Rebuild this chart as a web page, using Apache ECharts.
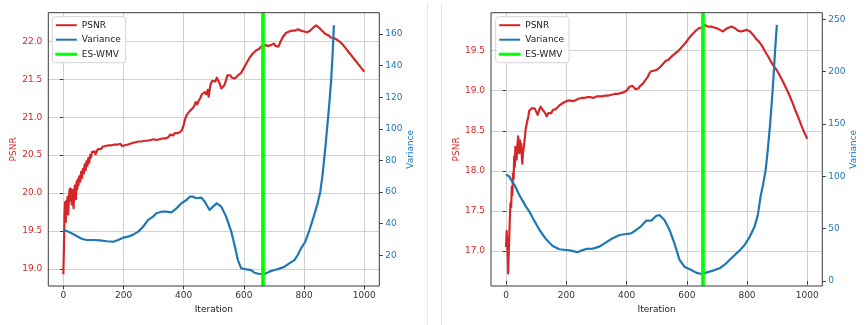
<!DOCTYPE html>
<html>
<head>
<meta charset="utf-8">
<script src="https://cdn.jsdelivr.net/npm/echarts@6/dist/echarts.min.js"></script>
<style>
html,body{margin:0;padding:0;background:#fff;}
#chart{width:865px;height:325px;}
</style>
</head>
<body>
<div id="chart"></div>
<script>
// ---------- data ----------
const xTicks = [0, 200, 400, 600, 800, 1000];
const leftPsnrTicks = [19.0, 19.5, 20.0, 20.5, 21.0, 21.5, 22.0];
const leftVarTicks = [20, 40, 60, 80, 100, 120, 140, 160];
const rightPsnrTicks = [17.0, 17.5, 18.0, 18.5, 19.0, 19.5];
const rightVarTicks = [0, 50, 100, 150, 200, 250];

const xRange = [-50, 1050];
const leftPsnrRange = [18.776, 22.377];
const leftVarRange = [0.6, 173.5];
const rightPsnrRange = [16.563, 19.974];
const rightVarRange = [-4.8, 256.3];

const leftStop = 664;
const rightStop = 652;

const leftPsnrIter = [0,2,4,6,8,10,12,14,16,18,20,22,24,26,28,30,32,34,36,38,40,42,44,46,48,50,53,56,59,62,65,68,71,74,77,80,83,86,89,92,95,98,101,104,107,110,115,120,125,130,135,140,145,150,155,160,165,170,175,180,185,190,195,200,205,210,215,220,230,240,250,260,270,280,290,300,310,320,330,340,350,355,360,365,370,375,380,385,390,395,400,405,410,415,420,425,430,435,440,445,450,455,460,465,470,475,480,483,487,490,495,500,505,510,515,520,525,530,535,540,545,550,555,560,565,570,575,580,585,590,595,600,610,620,630,640,650,660,670,680,690,700,705,710,715,720,730,740,750,760,765,770,780,790,800,810,820,830,840,850,860,870,880,890,900,910,920,930,940,950,960,970,980,990,1000];
const leftPsnr = [18.93,19.30,19.75,19.88,19.62,19.90,19.80,19.95,19.72,19.88,20.02,20.06,19.90,20.05,19.85,20.04,19.95,19.80,20.00,20.10,20.12,19.92,20.15,20.05,20.18,20.10,20.22,20.15,20.28,20.20,20.32,20.26,20.38,20.30,20.42,20.36,20.46,20.40,20.50,20.47,20.54,20.56,20.53,20.55,20.51,20.54,20.58,20.60,20.58,20.61,20.60,20.62,20.61,20.63,20.62,20.63,20.65,20.64,20.66,20.64,20.63,20.65,20.62,20.61,20.63,20.62,20.64,20.65,20.66,20.67,20.68,20.68,20.69,20.69,20.70,20.71,20.70,20.71,20.72,20.72,20.74,20.77,20.78,20.76,20.79,20.78,20.79,20.79,20.81,20.84,20.90,20.98,21.03,21.05,21.08,21.10,21.12,21.15,21.20,21.17,21.22,21.25,21.30,21.28,21.33,21.30,21.36,21.27,21.38,21.44,21.48,21.50,21.47,21.52,21.50,21.44,21.38,21.40,21.42,21.48,21.55,21.57,21.55,21.52,21.54,21.51,21.53,21.55,21.56,21.58,21.60,21.65,21.72,21.79,21.84,21.88,21.90,21.94,21.95,21.94,21.95,21.97,21.94,21.95,21.93,21.98,22.06,22.11,22.13,22.14,22.12,22.14,22.16,22.14,22.13,22.12,22.14,22.18,22.21,22.18,22.14,22.10,22.08,22.05,22.04,22.02,21.99,21.95,21.90,21.85,21.80,21.75,21.70,21.65,21.60];

const leftVarIter = [0,11,28,44,61,77,99,122,144,166,182,199,215,232,249,265,282,298,309,326,343,359,376,392,409,420,431,442,459,470,486,497,510,525,541,558,569,580,591,608,624,635,652,669,685,702,718,735,751,768,779,790,804,818,832,845,854,862,871,878,884,890,895,899];
const leftVar = [36.0,35.4,33.9,32.2,30.5,29.7,29.7,29.5,28.9,28.6,29.7,31.2,31.8,33.1,35.0,38.1,42.4,44.5,46.6,47.6,47.6,47.2,49.7,52.9,55.0,57.1,57.1,56.1,56.5,53.9,48.7,50.8,52.9,50.8,44.5,35.0,26.5,17.0,11.8,11.1,10.7,9.0,8.2,8.2,9.7,10.7,11.6,12.8,14.9,17.0,20.2,24.4,28.6,36.0,44.5,52.9,60.3,71.9,88.7,103.5,116.1,130.9,147.8,165.6];

const rightPsnrIter = [0,2,4,6,7,9,11,13,15,17,19,21,23,25,27,29,31,33,35,37,40,42,44,46,48,50,52,54,56,59,62,65,68,71,74,77,80,85,90,95,100,105,110,115,120,125,130,135,140,145,150,155,160,165,170,175,180,190,200,210,220,230,240,250,260,270,280,290,300,310,320,330,340,350,360,370,380,390,400,405,410,415,420,425,430,435,440,445,450,455,460,465,470,475,480,485,490,495,500,510,520,530,540,550,560,570,580,590,600,610,620,630,640,650,660,670,680,690,700,710,720,730,740,750,760,770,780,790,800,810,820,830,840,850,860,870,880,890,900,910,920,930,940,950,960,970,980,990,1000];
const rightPsnr = [17.05,17.25,17.10,16.90,16.72,17.00,17.22,17.45,17.60,17.55,17.80,17.70,17.97,17.90,18.18,18.05,18.30,18.20,18.14,18.28,18.43,18.30,18.22,18.38,18.25,18.34,18.20,18.09,18.22,18.30,18.40,18.52,18.58,18.63,18.68,18.75,18.77,18.78,18.77,18.78,18.78,18.70,18.76,18.80,18.77,18.75,18.72,18.68,18.72,18.74,18.72,18.76,18.75,18.77,18.79,18.81,18.83,18.85,18.87,18.88,18.87,18.88,18.90,18.91,18.91,18.92,18.92,18.91,18.93,18.93,18.93,18.94,18.94,18.95,18.96,18.96,18.97,18.98,19.00,19.02,19.05,19.07,19.06,19.05,19.02,19.01,19.03,19.06,19.07,19.09,19.12,19.14,19.17,19.21,19.24,19.23,19.25,19.24,19.26,19.29,19.33,19.37,19.39,19.43,19.46,19.49,19.53,19.57,19.62,19.67,19.71,19.75,19.78,19.79,19.82,19.80,19.80,19.79,19.78,19.76,19.74,19.77,19.79,19.80,19.78,19.75,19.74,19.75,19.76,19.74,19.70,19.65,19.61,19.56,19.49,19.43,19.36,19.30,19.25,19.18,19.11,19.03,18.95,18.86,18.76,18.67,18.57,18.48,18.40];

const rightVarIter = [0,11,17,28,44,66,77,89,111,133,144,155,177,199,216,238,249,266,288,310,332,354,377,399,415,432,449,465,482,498,509,526,543,559,576,592,615,631,648,664,687,709,731,753,775,792,808,825,836,845,853,862,869,877,886,892,899];
const rightVar = [101.9,99.7,96.5,91.7,82.2,71.0,66.5,59.9,48.7,39.8,36.5,33.4,30.3,29.6,29.0,27.4,29.0,30.6,30.9,32.8,36.9,40.8,43.9,44.9,45.5,48.7,52.5,57.6,57.6,62.1,63.1,58.3,48.7,36.0,20.1,13.7,10.5,8.0,6.7,8.0,9.9,12.1,16.9,23.2,29.0,34.4,41.7,51.9,63.1,80.6,91.7,106.1,125.2,150.6,185.7,214.3,244.6];

// ---------- styling ----------
const RED = '#d62728', BLUE = '#1f77b4', GREEN = '#00ff00';
const FONT = 'DejaVu Sans';
const FRAME = '#3a3a3a';
const GRIDC = '#d2d2d2';

function zip(xs, ys) { return xs.map((x, i) => [x, ys[i]]); }

function xAxisCfg(gridIndex) {
  return {
    type: 'value', gridIndex, min: xRange[0], max: xRange[1],
    name: 'Iteration', nameLocation: 'middle', nameGap: 19,
    nameTextStyle: { color: '#222', fontFamily: FONT, fontSize: 9 },
    axisLine: { show: false },
    axisTick: { show: true, length: 3.5, customValues: xTicks, lineStyle: { color: FRAME, width: 1 } },
    axisLabel: { customValues: xTicks, color: '#333', fontFamily: FONT, fontSize: 9, margin: 5,
      formatter: v => String(Math.round(v)) },
    splitLine: { show: true, lineStyle: { color: GRIDC, width: 1 } }
  };
}
function yAxisCfg(gridIndex, pos, range, ticks, color, name, gap, decimals, grid) {
  return {
    type: 'value', gridIndex, position: pos, min: range[0], max: range[1],
    name, nameLocation: 'middle', nameRotate: 90, nameGap: gap,
    nameTextStyle: { color, fontFamily: FONT, fontSize: 9 },
    axisLine: { show: false },
    axisTick: { show: true, length: 3.5, customValues: ticks, lineStyle: { color: FRAME, width: 1 } },
    axisLabel: { customValues: ticks, color, fontFamily: FONT, fontSize: 9, margin: 6,
      formatter: v => v.toFixed(decimals) },
    splitLine: { show: grid, lineStyle: { color: GRIDC, width: 1 } }
  };
}
function lineSeries(name, color, xi, yi, data, z) {
  return { type: 'line', name, xAxisIndex: xi, yAxisIndex: yi, data, showSymbol: false, symbol: 'none',
    color, z, lineStyle: { color, width: 2.2, join: 'round' }, emphasis: { disabled: true }, silent: true };
}
function stopSeries(xi, yi, value) {
  return { type: 'line', name: 'ES-WMV', xAxisIndex: xi, yAxisIndex: yi, data: [], color: GREEN, z: 5,
    symbol: 'none',
    markLine: { silent: true, symbol: ['none', 'none'], label: { show: false }, animation: false,
      lineStyle: { color: GREEN, width: 3.7, type: 'solid' }, emphasis: { disabled: true },
      data: [{ xAxis: value }] } };
}
function legendCfg(left) {
  return {
    orient: 'vertical', left, top: 16.7, padding: [3, 5, 3, 3], itemGap: 3.5,
    itemWidth: 21, itemHeight: 2,
    backgroundColor: '#fff', borderColor: '#d4d4d4', borderWidth: 1, borderRadius: 3,
    textStyle: { fontFamily: FONT, fontSize: 9, color: '#222', lineHeight: 11 },
    itemStyle: { borderWidth: 0 },
    selectedMode: false,
    data: [
      { name: 'PSNR', icon: 'rect' },
      { name: 'Variance', icon: 'rect' },
      { name: 'ES-WMV', icon: 'rect', itemStyle: { borderWidth: 1, borderColor: GREEN } }
    ]
  };
}

const option = {
  animation: false,
  backgroundColor: '#fff',
  grid: [
    { left: 48.3, right: 865 - 379.3, top: 12.7, bottom: 325 - 286, show: true, borderColor: FRAME, borderWidth: 1, backgroundColor: 'transparent', z: 10 },
    { left: 491, right: 865 - 822.3, top: 12.7, bottom: 325 - 286, show: true, borderColor: FRAME, borderWidth: 1, backgroundColor: 'transparent', z: 10 }
  ],
  legend: [legendCfg(52.3), legendCfg(495.7)],
  xAxis: [xAxisCfg(0), xAxisCfg(1)],
  yAxis: [
    yAxisCfg(0, 'left', leftPsnrRange, leftPsnrTicks, RED, 'PSNR', 30, 1, true),
    yAxisCfg(0, 'right', leftVarRange, leftVarTicks, BLUE, 'Variance', 27, 0, false),
    yAxisCfg(1, 'left', rightPsnrRange, rightPsnrTicks, RED, 'PSNR', 30, 1, true),
    yAxisCfg(1, 'right', rightVarRange, rightVarTicks, BLUE, 'Variance', 27, 0, false)
  ],
  graphic: [
    { type: 'line', shape: { x1: 427.5, y1: 3, x2: 427.5, y2: 325 }, style: { stroke: '#e6e6e6', lineWidth: 1 }, silent: true },
    { type: 'line', shape: { x1: 441.5, y1: 3, x2: 441.5, y2: 325 }, style: { stroke: '#e6e6e6', lineWidth: 1 }, silent: true }
  ],
  series: [
    lineSeries('PSNR', RED, 0, 0, zip(leftPsnrIter, leftPsnr), 2),
    lineSeries('Variance', BLUE, 0, 1, zip(leftVarIter, leftVar), 3),
    stopSeries(0, 1, leftStop),
    lineSeries('PSNR', RED, 1, 2, zip(rightPsnrIter, rightPsnr), 2),
    lineSeries('Variance', BLUE, 1, 3, zip(rightVarIter, rightVar), 3),
    stopSeries(1, 3, rightStop)
  ]
};

const chart = echarts.init(document.getElementById('chart'), null, { renderer: 'canvas' });
chart.setOption(option);
</script>
</body>
</html>
